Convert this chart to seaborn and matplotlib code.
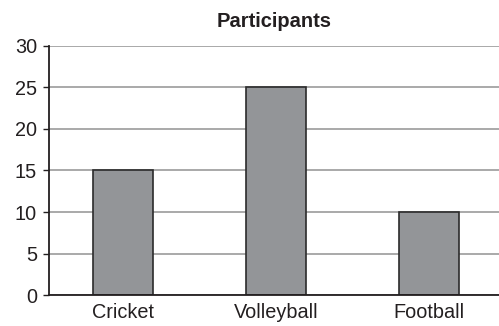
import pandas as pd
import seaborn as sns
from matplotlib import pyplot as plt

# data
sports = ["Cricket", "Volleyball", "Football"]
participants = [15, 25, 10]
y_ticks = [0, 5, 10, 15, 20, 25, 30]

df = pd.DataFrame({"Sport": sports, "Participants": participants})

sns.set_style("white")
plt.rcParams["font.family"] = ["Liberation Sans", "DejaVu Sans"]

fig = plt.figure(figsize=(4.99, 3.26), dpi=100)
ax = fig.add_axes([0.0976, 0.095, 0.9024, 0.764])

sns.barplot(x="Sport", y="Participants", data=df, color="#939598",
            edgecolor="#2b2b2b", linewidth=1.2, width=0.39, saturation=1, ax=ax)

ax.set_ylim(0, 30)
ax.set_xlim(-0.486, 2.457)
ax.set_yticks(y_ticks)
ax.yaxis.grid(True, color="#a3a3a3", linewidth=1.3)
ax.set_axisbelow(True)

ax.set_xlabel("")
ax.set_ylabel("")
ax.set_title("Participants", fontsize=14.5, fontweight="bold", color="#231f20", pad=14)

for side in ["top", "right"]:
    ax.spines[side].set_visible(False)
for side in ["left", "bottom"]:
    ax.spines[side].set_color("#231f20")
    ax.spines[side].set_linewidth(1.3)

ax.tick_params(axis="y", length=4.5, width=1, color="#231f20", labelsize=14.3,
               labelcolor="#231f20", pad=4, left=True)
ax.tick_params(axis="x", length=0, labelsize=14.3, labelcolor="#231f20", pad=6)

plt.savefig("out.png", dpi=100)
